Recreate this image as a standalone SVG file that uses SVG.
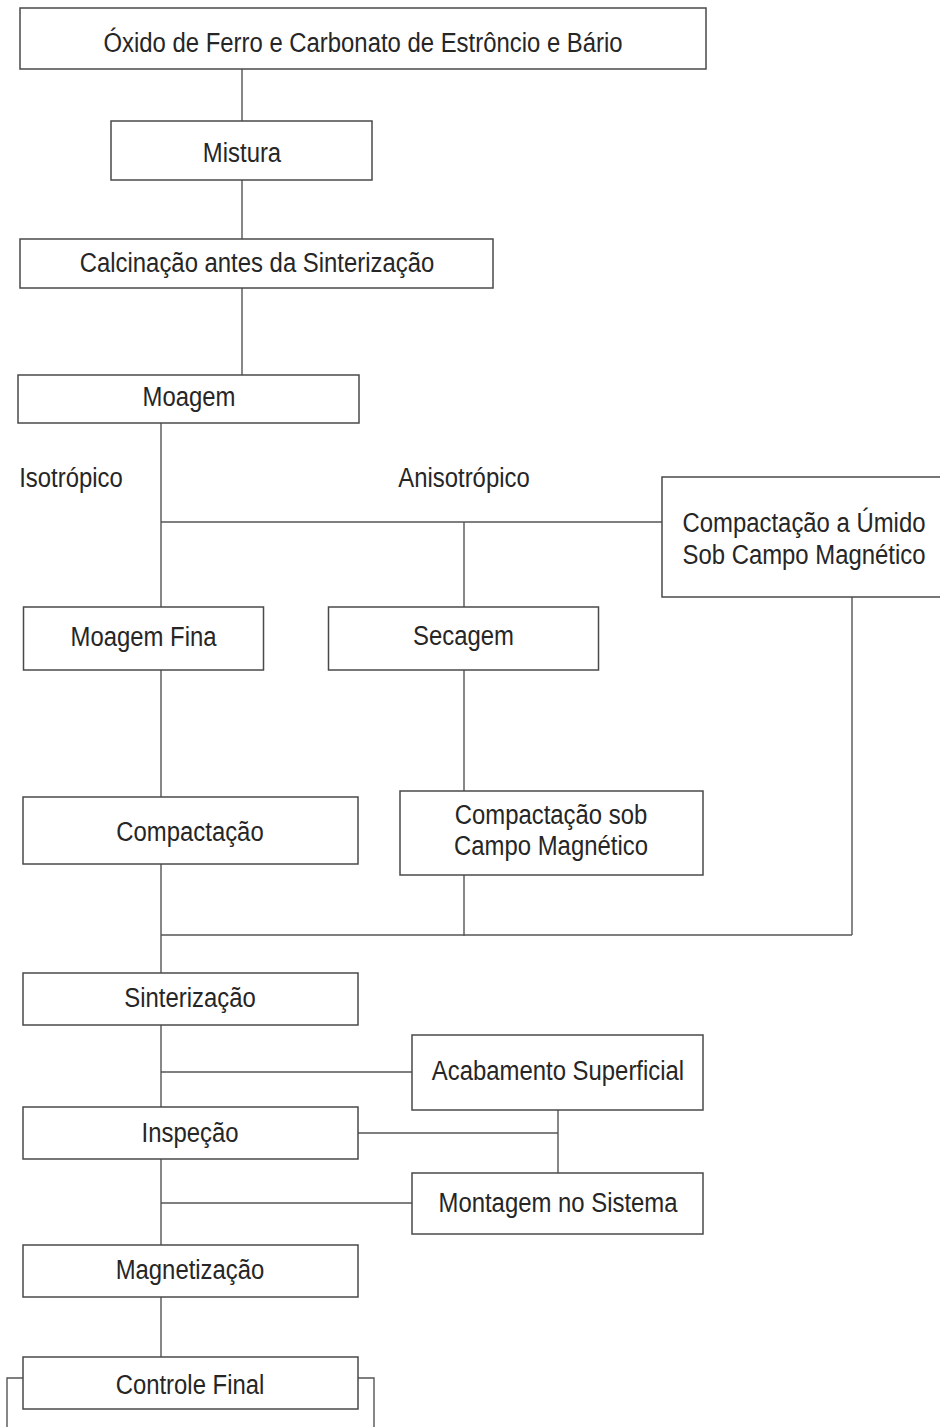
<svg xmlns="http://www.w3.org/2000/svg" width="940" height="1427" viewBox="0 0 940 1427">
<style>
.box{fill:#fff;stroke:#4a4a4a;stroke-width:1.5}
.ln{fill:none;stroke:#555;stroke-width:1.4}
.t{font-family:"Liberation Sans",Arial,sans-serif;font-size:27px;fill:#262626;text-anchor:middle}
</style>
<rect width="940" height="1427" fill="#fff"/>
<g id="connectors">
<path class="ln" d="M242 69V121M242 180V239M242 288V375"/>
<path class="ln" d="M161 423V607M161 522H662M464 522V607"/>
<path class="ln" d="M852 597V935"/>
<path class="ln" d="M161 670V797M464 670V791M464 875V936"/>
<path class="ln" d="M161 935H852M161 864V973"/>
<path class="ln" d="M161 1025V1245M161 1072H412M358 1133H558M558 1110V1173M161 1203H412"/>
<path class="ln" d="M161 1297V1357"/>
<path class="ln" d="M23 1378H7V1430M358 1378H374V1430"/>
</g>
<g id="n_oxido"><rect class="box" x="20" y="8" width="686" height="61"/><text class="t" transform="translate(363 52) scale(0.885 1)">Óxido de Ferro e Carbonato de Estrôncio e Bário</text></g>
<g id="n_mistura"><rect class="box" x="111" y="121" width="261" height="59"/><text class="t" transform="translate(242 162) scale(0.885 1)">Mistura</text></g>
<g id="n_calcinacao"><rect class="box" x="20" y="239" width="473" height="49"/><text class="t" transform="translate(257 272) scale(0.885 1)">Calcinação antes da Sinterização</text></g>
<g id="n_moagem"><rect class="box" x="18" y="375" width="341" height="48"/><text class="t" transform="translate(189 406) scale(0.885 1)">Moagem</text></g>
<g id="l_iso"><text class="t" transform="translate(71 487) scale(0.885 1)">Isotrópico</text></g>
<g id="l_aniso"><text class="t" transform="translate(464 487) scale(0.885 1)">Anisotrópico</text></g>
<g id="n_umido"><rect class="box" x="662" y="477" width="290" height="120"/><text class="t" transform="translate(804 532) scale(0.885 1)">Compactação a Úmido</text><text class="t" transform="translate(804 564) scale(0.885 1)">Sob Campo Magnético</text></g>
<g id="n_moagemfina"><rect class="box" x="23.5" y="607" width="240" height="63"/><text class="t" transform="translate(143.5 646) scale(0.885 1)">Moagem Fina</text></g>
<g id="n_secagem"><rect class="box" x="328.5" y="607" width="270" height="63"/><text class="t" transform="translate(463.5 645) scale(0.885 1)">Secagem</text></g>
<g id="n_compactacao"><rect class="box" x="23" y="797" width="335" height="67"/><text class="t" transform="translate(190 841) scale(0.885 1)">Compactação</text></g>
<g id="n_compsob"><rect class="box" x="400" y="791" width="303" height="84"/><text class="t" transform="translate(551 824) scale(0.885 1)">Compactação sob</text><text class="t" transform="translate(551 855) scale(0.885 1)">Campo Magnético</text></g>
<g id="n_sinterizacao"><rect class="box" x="23" y="973" width="335" height="52"/><text class="t" transform="translate(190 1007) scale(0.885 1)">Sinterização</text></g>
<g id="n_acabamento"><rect class="box" x="412" y="1035" width="291" height="75"/><text class="t" transform="translate(558 1080) scale(0.885 1)">Acabamento Superficial</text></g>
<g id="n_inspecao"><rect class="box" x="23" y="1107" width="335" height="52"/><text class="t" transform="translate(190 1142) scale(0.885 1)">Inspeção</text></g>
<g id="n_montagem"><rect class="box" x="412" y="1173" width="291" height="61"/><text class="t" transform="translate(558 1212) scale(0.885 1)">Montagem no Sistema</text></g>
<g id="n_magnetizacao"><rect class="box" x="23" y="1245" width="335" height="52"/><text class="t" transform="translate(190 1279) scale(0.885 1)">Magnetização</text></g>
<g id="n_controle"><rect class="box" x="23" y="1357" width="335" height="52"/><text class="t" transform="translate(190 1394) scale(0.885 1)">Controle Final</text></g>
</svg>
